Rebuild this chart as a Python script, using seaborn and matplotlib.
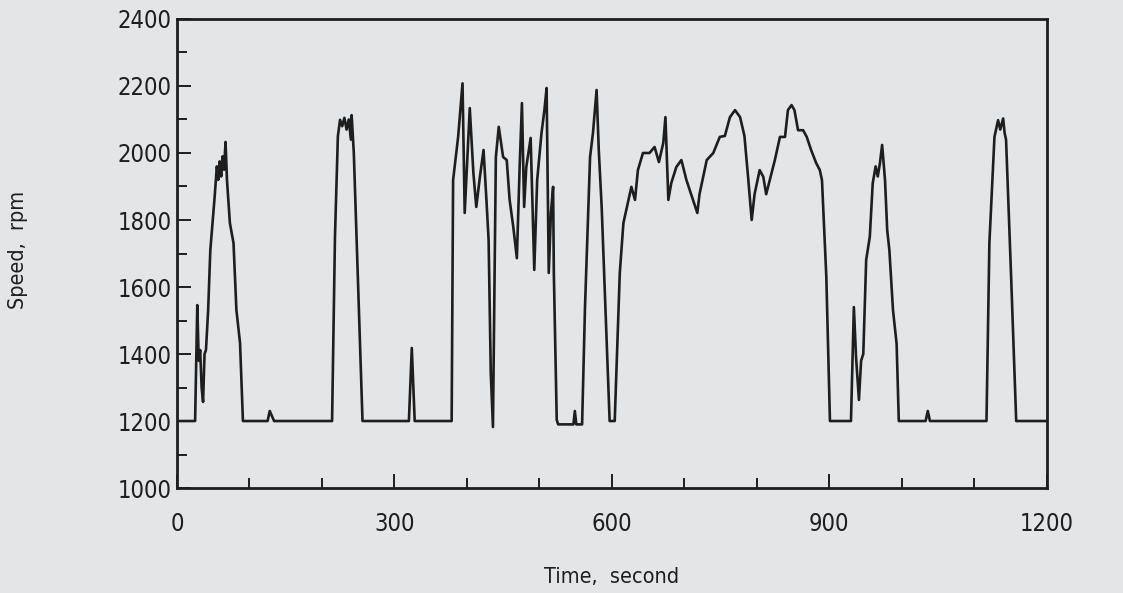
import matplotlib
matplotlib.use("Agg")
import matplotlib.pyplot as plt
import seaborn as sns
import pandas as pd
from matplotlib.ticker import MultipleLocator

time_s = [0, 25, 28, 30, 32, 34, 36, 38, 40, 43, 46, 52, 55, 57, 59, 61, 63, 65, 67, 69,
          73, 78, 82, 87, 91, 125, 128, 131, 134, 214, 218, 222, 225, 228, 231, 234, 237,
          240, 241, 244, 256, 320, 324, 328, 379, 381, 388, 394, 397, 404, 409, 413, 418,
          423, 427, 430, 433, 436, 440, 444, 450, 455, 459, 464, 469, 473, 476, 479, 482,
          488, 493, 497, 503, 507, 510, 513, 516, 519, 520, 524, 526, 547, 549, 551, 559,
          563, 570, 574, 579, 582, 586, 597, 604, 611, 616, 620, 627, 632, 636, 643, 652,
          659, 665, 671, 674, 678, 682, 689, 696, 703, 712, 718, 721, 731, 740, 749, 756,
          763, 770, 777, 783, 788, 793, 797, 804, 809, 813, 818, 825, 832, 839, 843, 848,
          852, 857, 864, 869, 875, 882, 887, 890, 896, 901, 930, 934, 937, 941, 944, 947,
          951, 956, 960, 964, 967, 970, 973, 977, 980, 983, 988, 993, 996, 1033, 1036, 1039,
          1117, 1121, 1128, 1133, 1136, 1140, 1142, 1144, 1151, 1158, 1200]

speed_rpm = [1200, 1200, 1546, 1380, 1412, 1300, 1257, 1400, 1412, 1531, 1710, 1870, 1960,
             1920, 1975, 1930, 1990, 1950, 2033, 1919,
             1791, 1731, 1531, 1433, 1200, 1200, 1230, 1215, 1200, 1200, 1750, 2050, 2099,
             2080, 2105, 2070, 2100,
             2040, 2113, 2000, 1200, 1200, 1418, 1200, 1200, 1919, 2049, 2208, 1821, 2134,
             1940, 1839, 1929,
             2009, 1860, 1740, 1343, 1182, 1988, 2078, 1988, 1979, 1860, 1780, 1686, 1970,
             2149, 1839, 1958,
             2045, 1651, 1919, 2060, 2128, 2194, 1642, 1821, 1899, 1642, 1203, 1190, 1190,
             1230, 1190, 1190,
             1540, 1988, 2060, 2188, 2009, 1839, 1200, 1200, 1642, 1791, 1830, 1899, 1860,
             1949, 2000, 2000,
             2018, 1973, 2030, 2107, 1860, 1910, 1958, 1979, 1919, 1860, 1821, 1877, 1979,
             2000, 2048, 2051,
             2107, 2128, 2107, 2051, 1929, 1800, 1877, 1949, 1929, 1877, 1919, 1979, 2048,
             2048, 2128, 2143,
             2128, 2068, 2068, 2048, 2009, 1970, 1949, 1919, 1630, 1200, 1200, 1540, 1391,
             1263, 1380, 1400,
             1681, 1750, 1909, 1960, 1930, 1970, 2024, 1919, 1770, 1710, 1531, 1430, 1200,
             1200, 1230, 1200,
             1200, 1731, 2048, 2098, 2070, 2103, 2060, 2040, 1630, 1200, 1200]

x_ticks = [0, 300, 600, 900, 1200]
y_ticks = [1000, 1200, 1400, 1600, 1800, 2000, 2200, 2400]

df = pd.DataFrame({"time": time_s, "speed": speed_rpm})

sns.set_style("ticks")
plt.rcParams["font.family"] = ["DejaVu Sans"]
plt.rcParams["font.stretch"] = "condensed"

bg = "#e4e5e7"
ink = "#1e1e1e"

fig = plt.figure(figsize=(11.23, 5.93), dpi=100, facecolor=bg)
ax = fig.add_axes([0.1576, 0.177, 0.7744, 0.791])
ax.set_facecolor(bg)

sns.lineplot(data=df, x="time", y="speed", ax=ax, color=ink, linewidth=1.9,
             estimator=None, sort=False)

ax.set_xlim(0, 1200)
ax.set_ylim(1000, 2400)
ax.set_xticks(x_ticks)
ax.set_yticks(y_ticks)
ax.xaxis.set_minor_locator(MultipleLocator(100))
ax.yaxis.set_minor_locator(MultipleLocator(100))

for s in ax.spines.values():
    s.set_color(ink)
    s.set_linewidth(2.0)
    s.set_visible(True)

ax.tick_params(axis="both", which="major", direction="in", length=10, width=1.4,
               colors=ink, labelsize=17)
ax.tick_params(axis="x", which="major", pad=17)
ax.tick_params(axis="y", which="major", pad=4)
ax.tick_params(axis="both", which="minor", direction="in", length=7, width=1.4,
               colors=ink)
ax.tick_params(top=False, right=False, which="both")

ax.set_xlabel("Time,  second", fontsize=15.5, color=ink)
ax.set_ylabel("Speed,  rpm", fontsize=15.5, color=ink)
ax.xaxis.set_label_coords(0.5, -0.168)
ax.yaxis.set_label_coords(-0.171, 0.507)

fig.savefig("out.png", dpi=100, facecolor=bg)
